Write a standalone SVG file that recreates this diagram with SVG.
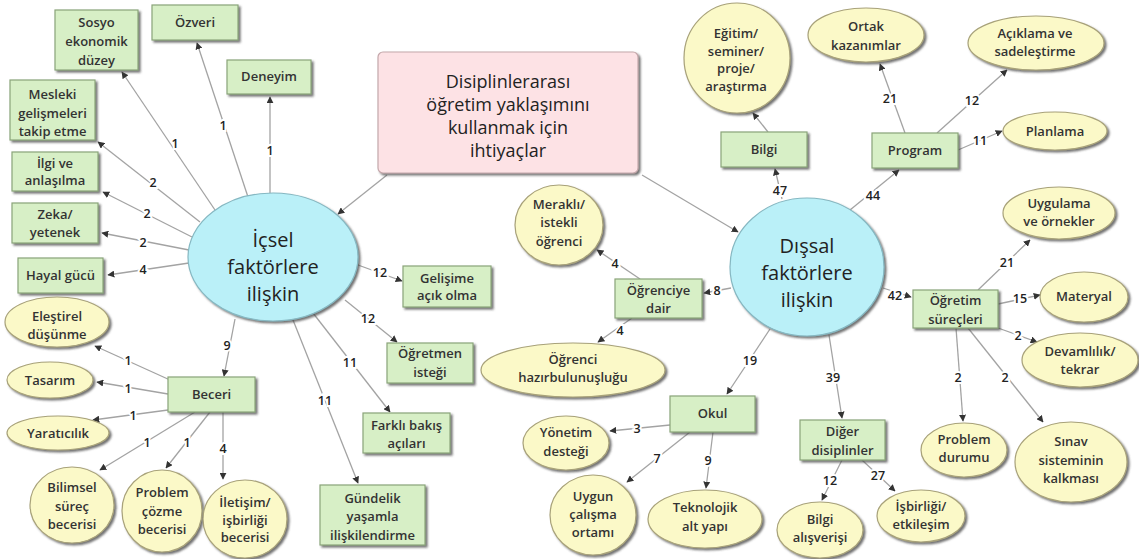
<svg xmlns="http://www.w3.org/2000/svg" width="1139" height="559" viewBox="0 0 1139 559">
<defs>
<filter id="sh" x="-10%" y="-10%" width="125%" height="130%">
<feDropShadow dx="2" dy="2" stdDeviation="1" flood-color="#444" flood-opacity="0.75"/>
</filter>
<marker id="ah" viewBox="0 0 10 10" refX="9" refY="5" markerWidth="7" markerHeight="7" markerUnits="userSpaceOnUse" orient="auto">
<path d="M0,0 L10,5 L0,10 z" fill="#333"/>
</marker>
</defs>
<style>
text{font-family:"Open Sans","Noto Sans","DejaVu Sans",sans-serif;text-anchor:middle;fill:#333;}
.n text{font-size:13px;font-weight:600;}
.g rect{fill:#d7efc6;stroke:#8aa47a;stroke-width:1.2;filter:url(#sh);}
.y ellipse{fill:#fbf9c8;stroke:#a8a27a;stroke-width:1.2;filter:url(#sh);}
.h ellipse{fill:#baf0f8;stroke:#86b8c2;stroke-width:1.2;filter:url(#sh);}
.h text{font-size:20px;font-weight:500;fill:#222;}
.c rect{fill:#fde2e5;stroke:#c4a8ab;stroke-width:1.2;filter:url(#sh);}
.c text{font-size:18px;fill:#222;}
#connectors line{stroke:#a3a3a3;stroke-width:1.3;marker-end:url(#ah);}
#labels text{font-size:12.5px;font-weight:600;fill:#222;stroke:#fff;stroke-width:4px;paint-order:stroke;}
</style>
<rect width="1139" height="559" fill="#fff"/>
<g id="connectors">
<line x1="215" y1="210" x2="122" y2="72"/>
<line x1="248" y1="197" x2="197" y2="43"/>
<line x1="270" y1="193" x2="270" y2="97"/>
<line x1="200" y1="222" x2="98" y2="142"/>
<line x1="192" y1="237" x2="103" y2="192"/>
<line x1="189" y1="250" x2="102" y2="233"/>
<line x1="189" y1="263" x2="108" y2="275"/>
<line x1="235" y1="319" x2="224" y2="376"/>
<line x1="358" y1="265" x2="402" y2="281"/>
<line x1="345" y1="300" x2="397" y2="342"/>
<line x1="313" y1="313" x2="390" y2="412"/>
<line x1="293" y1="320" x2="358" y2="483"/>
<line x1="170" y1="380" x2="95" y2="346"/>
<line x1="168" y1="394" x2="97" y2="382"/>
<line x1="168" y1="410" x2="93" y2="420"/>
<line x1="195" y1="412" x2="100" y2="470"/>
<line x1="210" y1="412" x2="166" y2="468"/>
<line x1="223" y1="412" x2="223" y2="479"/>
<line x1="387" y1="175" x2="338" y2="214"/>
<line x1="642" y1="175" x2="738" y2="232"/>
<line x1="782" y1="199" x2="775" y2="169"/>
<line x1="768" y1="132" x2="753" y2="113"/>
<line x1="850" y1="210" x2="899" y2="170"/>
<line x1="905" y1="133" x2="880" y2="64"/>
<line x1="937" y1="133" x2="1007" y2="70"/>
<line x1="958" y1="150" x2="1002" y2="131"/>
<line x1="731" y1="288" x2="704" y2="293"/>
<line x1="640" y1="279" x2="597" y2="250"/>
<line x1="632" y1="318" x2="598" y2="342"/>
<line x1="770" y1="329" x2="727" y2="394"/>
<line x1="670" y1="425" x2="610" y2="431"/>
<line x1="690" y1="432" x2="627" y2="482"/>
<line x1="713" y1="432" x2="706" y2="488"/>
<line x1="829" y1="335" x2="842" y2="418"/>
<line x1="842" y1="460" x2="822" y2="500"/>
<line x1="862" y1="460" x2="895" y2="491"/>
<line x1="883" y1="288" x2="911" y2="297"/>
<line x1="978" y1="290" x2="1030" y2="240"/>
<line x1="998" y1="304" x2="1040" y2="295"/>
<line x1="998" y1="328" x2="1037" y2="342"/>
<line x1="956" y1="328" x2="963" y2="421"/>
<line x1="968" y1="328" x2="1043" y2="422"/>
</g>
<g id="labels">
<text x="175" y="148">1</text>
<text x="223" y="130">1</text>
<text x="270" y="155">1</text>
<text x="153" y="187">2</text>
<text x="147" y="218">2</text>
<text x="143" y="247">2</text>
<text x="143" y="274">4</text>
<text x="227" y="350">9</text>
<text x="380" y="277">12</text>
<text x="368" y="323">12</text>
<text x="350" y="367">11</text>
<text x="325" y="405">11</text>
<text x="128" y="365">1</text>
<text x="128" y="393">1</text>
<text x="133" y="420">1</text>
<text x="147" y="447">1</text>
<text x="187" y="447">1</text>
<text x="223" y="453">4</text>
<text x="780" y="195">47</text>
<text x="873" y="200">44</text>
<text x="890" y="103">21</text>
<text x="972" y="105">12</text>
<text x="980" y="145">11</text>
<text x="717" y="295">8</text>
<text x="615" y="268">4</text>
<text x="620" y="335">4</text>
<text x="750" y="365">19</text>
<text x="637" y="433">3</text>
<text x="657" y="463">7</text>
<text x="708" y="465">9</text>
<text x="833" y="382">39</text>
<text x="830" y="485">12</text>
<text x="878" y="480">27</text>
<text x="895" y="300">42</text>
<text x="1007" y="267">21</text>
<text x="1020" y="303">15</text>
<text x="1018" y="340">2</text>
<text x="958" y="382">2</text>
<text x="1005" y="382">2</text>
</g>
<g id="center" class="c">
<rect x="378" y="52" width="260" height="121" rx="5"/>
<text x="508" y="88">Disiplinlerarası</text>
<text x="508" y="111">öğretim yaklaşımını</text>
<text x="508" y="134">kullanmak için</text>
<text x="508" y="157">ihtiyaçlar</text>
</g>
<g id="icsel" class="h">
<ellipse cx="273" cy="257" rx="85" ry="64"/>
<text x="273" y="247">İçsel</text>
<text x="273" y="274">faktörlere</text>
<text x="273" y="301">ilişkin</text>
</g>
<g id="dissal" class="h">
<ellipse cx="807" cy="267" rx="77" ry="69"/>
<text x="807" y="253">Dışsal</text>
<text x="807" y="280">faktörlere</text>
<text x="807" y="307">ilişkin</text>
</g>
<g id="sosyo" class="n g"><rect x="55" y="10" width="83" height="60"/><text x="96.5" y="27">Sosyo</text><text x="96.5" y="46">ekonomik</text><text x="96.5" y="65">düzey</text></g>
<g id="ozveri" class="n g"><rect x="152" y="5" width="86" height="35"/><text x="195" y="27">Özveri</text></g>
<g id="deneyim" class="n g"><rect x="227" y="60" width="84" height="34"/><text x="269" y="81">Deneyim</text></g>
<g id="mesleki" class="n g"><rect x="10" y="80" width="85" height="60"/><text x="52.5" y="99">Mesleki</text><text x="52.5" y="118">gelişmeleri</text><text x="52.5" y="136">takip etme</text></g>
<g id="ilgi" class="n g"><rect x="12" y="152" width="86" height="39"/><text x="55" y="168">İlgi ve</text><text x="55" y="185">anlaşılma</text></g>
<g id="zeka" class="n g"><rect x="12" y="203" width="86" height="40"/><text x="55" y="219">Zeka/</text><text x="55" y="237">yetenek</text></g>
<g id="hayal" class="n g"><rect x="18" y="258" width="85" height="35"/><text x="60.5" y="280">Hayal gücü</text></g>
<g id="beceri" class="n g"><rect x="168" y="377" width="87" height="35"/><text x="211.5" y="399">Beceri</text></g>
<g id="gelisime" class="n g"><rect x="403" y="266" width="88" height="41"/><text x="447" y="283">Gelişime</text><text x="447" y="300">açık olma</text></g>
<g id="ogretmen" class="n g"><rect x="387" y="343" width="86" height="40"/><text x="430" y="358">Öğretmen</text><text x="430" y="377">isteği</text></g>
<g id="farkli" class="n g"><rect x="363" y="413" width="87" height="40"/><text x="406.5" y="430">Farklı bakış</text><text x="406.5" y="448">açıları</text></g>
<g id="gundelik" class="n g"><rect x="320" y="485" width="105" height="60"/><text x="372.5" y="503">Gündelik</text><text x="372.5" y="521">yaşamla</text><text x="372.5" y="540">ilişkilendirme</text></g>
<g id="bilgi" class="n g"><rect x="721" y="132" width="86" height="35"/><text x="764" y="154">Bilgi</text></g>
<g id="program" class="n g"><rect x="872" y="133" width="86" height="35"/><text x="915" y="155">Program</text></g>
<g id="ogrenciye" class="n g"><rect x="615" y="279" width="87" height="39"/><text x="658.5" y="295">Öğrenciye</text><text x="658.5" y="313">dair</text></g>
<g id="ogretim" class="n g"><rect x="913" y="290" width="85" height="38"/><text x="955.5" y="305">Öğretim</text><text x="955.5" y="324">süreçleri</text></g>
<g id="okul" class="n g"><rect x="670" y="396" width="85" height="36"/><text x="712.5" y="418">Okul</text></g>
<g id="diger" class="n g"><rect x="800" y="420" width="85" height="40"/><text x="842.5" y="436">Diğer</text><text x="842.5" y="455">disiplinler</text></g>
<g id="elestirel" class="n y"><ellipse cx="57" cy="322" rx="52" ry="25"/><text x="57" y="321">Eleştirel</text><text x="57" y="339">düşünme</text></g>
<g id="tasarim" class="n y"><ellipse cx="50" cy="380" rx="43" ry="18"/><text x="50" y="385">Tasarım</text></g>
<g id="yaraticilik" class="n y"><ellipse cx="58" cy="433" rx="51" ry="17"/><text x="58" y="438">Yaratıcılık</text></g>
<g id="bilimsel" class="n y"><ellipse cx="72" cy="505" rx="42" ry="38"/><text x="72" y="492">Bilimsel</text><text x="72" y="511">süreç</text><text x="72" y="529">becerisi</text></g>
<g id="problemcozme" class="n y"><ellipse cx="162" cy="511" rx="40" ry="41"/><text x="162" y="497">Problem</text><text x="162" y="516">çözme</text><text x="162" y="534">becerisi</text></g>
<g id="iletisim" class="n y"><ellipse cx="245" cy="519" rx="42" ry="39"/><text x="245" y="507">İletişim/</text><text x="245" y="525">işbirliği</text><text x="245" y="542">becerisi</text></g>
<g id="egitim" class="n y"><ellipse cx="737" cy="58" rx="53" ry="55"/><text x="736" y="38">Eğitim/</text><text x="736" y="56">seminer/</text><text x="736" y="73">proje/</text><text x="736" y="91">araştırma</text></g>
<g id="ortak" class="n y"><ellipse cx="866" cy="35" rx="58" ry="27"/><text x="866" y="31">Ortak</text><text x="866" y="50">kazanımlar</text></g>
<g id="aciklama" class="n y"><ellipse cx="1036" cy="43" rx="68" ry="27"/><text x="1035" y="38">Açıklama ve</text><text x="1035" y="56">sadeleştirme</text></g>
<g id="planlama" class="n y"><ellipse cx="1055" cy="131" rx="52" ry="19"/><text x="1055" y="136">Planlama</text></g>
<g id="merakli" class="n y"><ellipse cx="559" cy="225" rx="44" ry="40"/><text x="559" y="209">Meraklı/</text><text x="559" y="227">istekli</text><text x="559" y="246">öğrenci</text></g>
<g id="hazir" class="n y"><ellipse cx="573" cy="370" rx="92" ry="27"/><text x="573" y="364">Öğrenci</text><text x="573" y="382">hazırbulunuşluğu</text></g>
<g id="uygulama" class="n y"><ellipse cx="1059" cy="213" rx="56" ry="26"/><text x="1059" y="208">Uygulama</text><text x="1059" y="226">ve örnekler</text></g>
<g id="materyal" class="n y"><ellipse cx="1084" cy="297" rx="44" ry="25"/><text x="1084" y="301">Materyal</text></g>
<g id="devamlilik" class="n y"><ellipse cx="1080" cy="360" rx="58" ry="27"/><text x="1080" y="356">Devamlılık/</text><text x="1080" y="374">tekrar</text></g>
<g id="problemdurumu" class="n y"><ellipse cx="964" cy="450" rx="43" ry="27"/><text x="964" y="444">Problem</text><text x="964" y="462">durumu</text></g>
<g id="sinav" class="n y"><ellipse cx="1071" cy="462" rx="56" ry="40"/><text x="1071" y="446">Sınav</text><text x="1071" y="465">sisteminin</text><text x="1071" y="483">kalkması</text></g>
<g id="yonetim" class="n y"><ellipse cx="566" cy="443" rx="43" ry="27"/><text x="566" y="437">Yönetim</text><text x="566" y="456">desteği</text></g>
<g id="uygun" class="n y"><ellipse cx="593" cy="515" rx="43" ry="40"/><text x="593" y="501">Uygun</text><text x="593" y="519">çalışma</text><text x="593" y="537">ortamı</text></g>
<g id="teknolojik" class="n y"><ellipse cx="705" cy="519" rx="57" ry="29"/><text x="705" y="512">Teknolojik</text><text x="705" y="531">alt yapı</text></g>
<g id="bilgialis" class="n y"><ellipse cx="820" cy="530" rx="43" ry="28"/><text x="820" y="524">Bilgi</text><text x="820" y="542">alışverişi</text></g>
<g id="isbirligi" class="n y"><ellipse cx="921" cy="516" rx="44" ry="26"/><text x="921" y="511">İşbirliği/</text><text x="921" y="529">etkileşim</text></g>
</svg>
